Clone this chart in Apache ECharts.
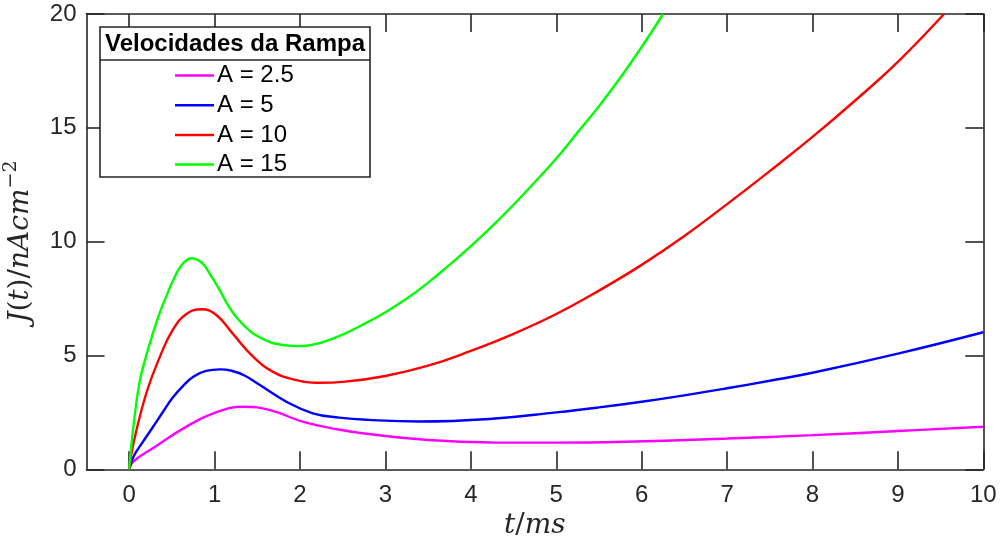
<!DOCTYPE html>
<html>
<head>
<meta charset="utf-8">
<script src="https://cdn.jsdelivr.net/npm/echarts@6/dist/echarts.min.js"></script>
<style>
  html, body { margin: 0; padding: 0; background: #ffffff; }
  #chart { width: 1000px; height: 543px; }
</style>
</head>
<body>
<div id="chart"></div>
<script>
// Tick positions
const xTickValues = [0, 1, 2, 3, 4, 5, 6, 7, 8, 9, 10];
const yTickValues = [0, 5, 10, 15, 20];

// Series names and colours
const seriesNames = ['A = 2.5', 'A = 5', 'A = 10', 'A = 15'];
const seriesColors = ['#ff00ff', '#0000ff', '#ff0000', '#00ff00'];

// A = 2.5
const tA25 = [0, 0.05, 0.3, 0.65, 1.0, 1.35, 1.65, 2.05, 2.45, 2.8, 3.5, 4.25, 5.0, 5.8, 7.0, 8.0, 9.0, 10];
const jA25 = [0, 0.35, 0.98, 1.83, 2.48, 2.75, 2.6, 2.07, 1.75, 1.55, 1.29, 1.18, 1.17, 1.21, 1.35, 1.5, 1.68, 1.87];

// A = 5
const tA5 = [0, 0.05, 0.15, 0.28, 0.4, 0.51, 0.62, 0.75, 0.9, 1.06, 1.2, 1.35, 1.53, 1.84, 2.15, 2.46, 2.8, 3.4, 4.25, 5.0, 5.5, 6.0, 6.5, 7.0, 7.5, 8.0, 9.0, 10];
const jA5 = [0, 0.55, 1.15, 1.87, 2.55, 3.15, 3.62, 4.07, 4.32, 4.39, 4.33, 4.12, 3.7, 2.97, 2.46, 2.27, 2.17, 2.1, 2.22, 2.5, 2.72, 2.97, 3.25, 3.56, 3.89, 4.24, 5.08, 6.02];

// A = 10
const tA10 = [0, 0.05, 0.2, 0.36, 0.51, 0.67, 0.85, 1.02, 1.21, 1.45, 1.68, 1.92, 2.23, 2.5, 3.0, 3.5, 4.0, 4.5, 5.0, 5.5, 6.0, 6.5, 7.0, 7.5, 8.0, 8.5, 9.0, 9.54];
const jA10 = [0, 1.14, 3.34, 4.95, 6.12, 6.82, 7.03, 6.78, 5.97, 4.95, 4.29, 3.95, 3.8, 3.84, 4.1, 4.55, 5.2, 5.95, 6.82, 7.85, 8.98, 10.25, 11.65, 13.1, 14.6, 16.2, 17.9, 20];

// A = 15
const tA15 = [0, 0.05, 0.12, 0.2, 0.28, 0.36, 0.44, 0.52, 0.6, 0.67, 0.73, 0.8, 0.87, 0.95, 1.06, 1.15, 1.25, 1.35, 1.45, 1.64, 1.8, 1.96, 2.1, 2.25, 2.5, 2.75, 3.0, 3.25, 3.5, 3.75, 4.0, 4.25, 4.5, 4.75, 5.0, 5.25, 5.5, 5.75, 6.0, 6.25];
const jA15 = [0, 1.9, 3.8, 5.0, 6.0, 6.9, 7.65, 8.35, 8.9, 9.18, 9.27, 9.2, 9.0, 8.55, 7.87, 7.25, 6.7, 6.3, 5.97, 5.6, 5.46, 5.41, 5.44, 5.56, 5.92, 6.38, 6.9, 7.5, 8.2, 8.98, 9.8, 10.68, 11.62, 12.62, 13.65, 14.8, 15.95, 17.2, 18.55, 20];

const seriesT = [tA25, tA5, tA10, tA15];
const seriesJ = [jA25, jA5, jA10, jA15];

const axisColor = '#262626';
const tickFont = 'Liberation Sans';
const mathFont = 'DejaVu Serif';

function pairs(t, j) {
  return t.map((v, i) => [v, j[i]]);
}

const chart = echarts.init(document.getElementById('chart'), null, { renderer: 'canvas' });

const frameAxisX = {
  type: 'value', min: -0.5, max: 10, interval: 0.5,
  axisLine: { show: true, onZero: false, lineStyle: { color: axisColor, width: 1.6 } },
  splitLine: { show: false }
};
const frameAxisY = {
  type: 'value', min: 0, max: 20, interval: 5,
  axisLine: { show: true, onZero: false, lineStyle: { color: axisColor, width: 1.6 } },
  splitLine: { show: false }
};

const option = {
  backgroundColor: '#ffffff',
  animation: false,
  grid: { left: 86.5, right: 16.7, top: 14, bottom: 73.7, containLabel: false, outerBoundsMode: 'none' },
  xAxis: [
    Object.assign({}, frameAxisX, {
      position: 'bottom',
      axisTick: { show: true, inside: true, length: 18, customValues: xTickValues, lineStyle: { color: axisColor, width: 1.6 } },
      axisLabel: { show: true, customValues: xTickValues, margin: 14, fontSize: 24, fontFamily: tickFont, color: axisColor },
      name: '{i|t}{n|/}{i|ms}',
      nameLocation: 'middle',
      nameGap: 36,
      nameTextStyle: {
        rich: {
          i: { fontFamily: mathFont, fontStyle: 'italic', fontSize: 28, color: axisColor },
          n: { fontFamily: mathFont, fontSize: 28, color: axisColor }
        }
      }
    }),
    Object.assign({}, frameAxisX, {
      position: 'top',
      axisTick: { show: true, inside: true, length: 18, customValues: xTickValues, lineStyle: { color: axisColor, width: 1.6 } },
      axisLabel: { show: false }
    })
  ],
  yAxis: [
    Object.assign({}, frameAxisY, {
      position: 'left',
      axisTick: { show: true, inside: true, length: 18, lineStyle: { color: axisColor, width: 1.6 } },
      axisLabel: { show: true, margin: 10, fontSize: 24, fontFamily: tickFont, color: axisColor },
      name: '{i|J}{n|(}{i|t}{n|)/}{i|nAcm}{s|−2}',
      nameLocation: 'middle',
      nameRotate: 90,
      nameGap: 47,
      nameTextStyle: {
        rich: {
          i: { fontFamily: mathFont, fontStyle: 'italic', fontSize: 28, color: axisColor },
          n: { fontFamily: mathFont, fontSize: 28, color: axisColor },
          s: { fontFamily: mathFont, fontSize: 19, color: axisColor, verticalAlign: 'bottom', padding: [0, 0, 19, 0] }
        }
      }
    }),
    Object.assign({}, frameAxisY, {
      position: 'right',
      axisTick: { show: true, inside: true, length: 18, lineStyle: { color: axisColor, width: 1.6 } },
      axisLabel: { show: false }
    })
  ],
  legend: {
    data: seriesNames,
    orient: 'vertical',
    left: 175,
    top: 63.5,
    padding: 0,
    icon: 'rect',
    itemWidth: 39,
    itemHeight: 2.5,
    itemGap: 5.7,
    z: 50,
    textStyle: { fontSize: 24, fontFamily: tickFont, color: '#000000', lineHeight: 23, padding: [0, 0, 0, -2] }
  },
  graphic: [
    {
      type: 'rect', z: 40,
      shape: { x: 100, y: 27, width: 270, height: 150 },
      style: { fill: '#ffffff', stroke: axisColor, lineWidth: 1.6 }
    },
    {
      type: 'line', z: 41,
      shape: { x1: 100, y1: 60, x2: 370, y2: 60 },
      style: { stroke: axisColor, lineWidth: 1.6 }
    },
    {
      type: 'text', z: 42, x: 235, y: 44,
      style: {
        text: 'Velocidades da Rampa',
        font: 'bold 24px "Liberation Sans"',
        fill: '#000000',
        textAlign: 'center',
        textVerticalAlign: 'middle'
      }
    }
  ],
  series: seriesNames.map((name, k) => ({
    name: name,
    type: 'line',
    data: pairs(seriesT[k], seriesJ[k]),
    symbol: 'none',
    smooth: 0.45,
    clip: true,
    color: seriesColors[k],
    lineStyle: { color: seriesColors[k], width: 2.4 },
    z: 2
  }))
};

chart.setOption(option);
</script>
</body>
</html>
